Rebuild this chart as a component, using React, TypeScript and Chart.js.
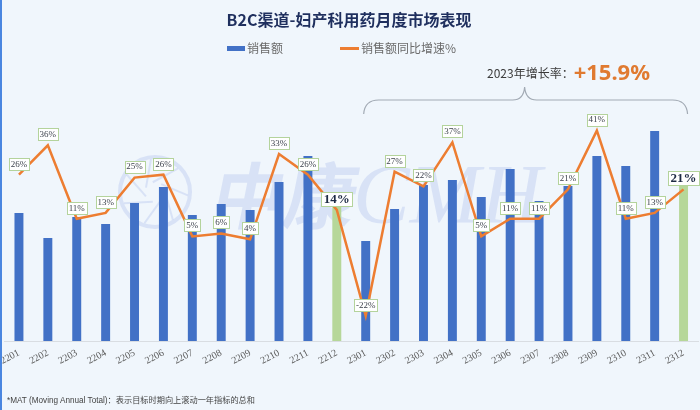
import React, { useEffect, useRef } from 'react';
import { Chart, registerables } from 'chart.js';

Chart.register(...registerables);

// ---------- data ----------
const categories = [
  '2201', '2202', '2203', '2204', '2205', '2206', '2207', '2208', '2209', '2210', '2211', '2212',
  '2301', '2302', '2303', '2304', '2305', '2306', '2307', '2308', '2309', '2310', '2311', '2312',
];
// 销售额 (relative units)
const salesValues = [
  12.8, 10.3, 12.4, 11.7, 13.8, 15.4, 12.6, 13.7, 13.1, 15.9, 18.5, 13.4,
  10.0, 13.2, 15.6, 16.1, 14.4, 17.2, 14.0, 15.5, 18.5, 17.5, 21.0, 15.5,
];
// 销售额同比增速 %
const growthValues = [
  26, 36, 11, 13, 25, 26, 5, 6, 4, 33, 26, 14,
  -22, 27, 22, 37, 5, 11, 11, 21, 41, 11, 13, 21,
];
const highlightCategories = ['2212', '2312'];

const titleText = 'B2C渠道-妇产科用药月度市场表现';
const legendSales = '销售额';
const legendGrowth = '销售额同比增速%';
const annotationLabel = '2023年增长率：';
const annotationValue = '+15.9%';
const braceFrom = '2301';
const braceTo = '2312';
const footnoteText = '*MAT (Moving Annual Total)：表示目标时期向上滚动一年指标的总和';
const watermarkCN = '中康';
const watermarkEN = 'CMH';

// ---------- styles ----------
const BLUE = '#4271c6';
const GREEN = '#b6d799';
const ORANGE = '#ed7d31';
const CJK = '"Noto Sans CJK SC", "Noto Sans", sans-serif';
const SERIF = '"Liberation Serif", "DejaVu Serif", serif';

const isHighlight = (i: number) => highlightCategories.includes(categories[i]);

const watermarkPlugin = {
  id: 'watermark',
  beforeDatasetsDraw(chart: any) {
    const ctx = chart.ctx as CanvasRenderingContext2D;
    ctx.save();
    // logo ring
    const cx = 155, cy = 192, r = 35;
    ctx.strokeStyle = 'rgba(110,140,220,0.18)';
    ctx.lineWidth = 4;
    ctx.beginPath();
    ctx.arc(cx, cy, r, 0, Math.PI * 2);
    ctx.stroke();
    ctx.lineWidth = 2;
    for (let k = 0; k < 7; k++) {
      const a = (k * Math.PI * 2) / 7;
      ctx.beginPath();
      ctx.moveTo(cx + Math.cos(a) * 10, cy + Math.sin(a) * 10);
      ctx.lineTo(cx + Math.cos(a + 1.0) * (r - 2), cy + Math.sin(a + 1.0) * (r - 2));
      ctx.stroke();
    }
    // text
    ctx.fillStyle = 'rgba(110,140,220,0.18)';
    ctx.textBaseline = 'alphabetic';
    ctx.textAlign = 'left';
    const base = 223;
    ctx.save();
    ctx.transform(1, 0, -0.2, 1, 0.2 * base, 0);
    ctx.font = `bold 72px ${CJK}`;
    ctx.fillText(watermarkCN, 208, base);
    ctx.restore();
    ctx.font = `italic 85px ${SERIF}`;
    ctx.fillText(watermarkEN, 353, base);
    ctx.restore();
  },
};

const labelsPlugin = {
  id: 'pointLabels',
  afterDatasetsDraw(chart: any) {
    const ctx = chart.ctx as CanvasRenderingContext2D;
    const meta = chart.getDatasetMeta(1);
    ctx.save();
    meta.data.forEach((pt: any, i: number) => {
      const bold = isHighlight(i);
      const text = `${growthValues[i]}%`;
      ctx.font = bold ? `bold 13px ${SERIF}` : `9px ${SERIF}`;
      const tw = ctx.measureText(text).width;
      const w = Math.round(tw + (bold ? 5 : 4));
      const h = bold ? 14 : 12;
      const cx = pt.x;
      const cy = pt.y - 11;
      const x0 = Math.round(cx - w / 2) + 0.5;
      const y0 = Math.round(cy - h / 2) + 0.5;
      ctx.fillStyle = '#ffffff';
      ctx.fillRect(x0, y0, w, h);
      ctx.strokeStyle = '#b4d39c';
      ctx.lineWidth = 1;
      ctx.strokeRect(x0, y0, w, h);
      ctx.fillStyle = bold ? '#1d2a44' : '#3a3f4a';
      ctx.textAlign = 'center';
      ctx.textBaseline = 'middle';
      ctx.fillText(text, cx, cy + 0.5);
    });
    ctx.restore();
  },
};

const bracePlugin = {
  id: 'brace',
  afterDraw(chart: any) {
    const ctx = chart.ctx as CanvasRenderingContext2D;
    const xs = chart.scales.x;
    const left = xs.getPixelForValue(categories.indexOf(braceFrom)) - 2;
    const right = xs.getPixelForValue(categories.indexOf(braceTo)) + 4;
    const mid = (left + right) / 2 - 1;
    const yArm = 100, yTip = 87, yEnd = 114;
    ctx.save();
    ctx.strokeStyle = '#a2aab4';
    ctx.lineWidth = 1.2;
    ctx.beginPath();
    ctx.moveTo(left, yEnd);
    ctx.quadraticCurveTo(left + 1, yArm, left + 15, yArm);
    ctx.lineTo(mid - 12, yArm);
    ctx.quadraticCurveTo(mid - 1, yArm, mid, yTip);
    ctx.quadraticCurveTo(mid + 1, yArm, mid + 12, yArm);
    ctx.lineTo(right - 15, yArm);
    ctx.quadraticCurveTo(right - 1, yArm, right, yEnd);
    ctx.stroke();
    ctx.restore();
  },
};

export default function App() {
  const ref = useRef<HTMLCanvasElement | null>(null);

  useEffect(() => {
    if (!ref.current) return;
    const chart = new Chart(ref.current, {
      type: 'bar',
      data: {
        labels: categories,
        datasets: [
          {
            type: 'bar',
            label: legendSales,
            data: salesValues,
            backgroundColor: categories.map((_, i) => (isHighlight(i) ? GREEN : BLUE)),
            barPercentage: 0.31,
            categoryPercentage: 1.0,
            yAxisID: 'y',
            order: 2,
          },
          {
            type: 'line',
            label: legendGrowth,
            data: growthValues,
            borderColor: ORANGE,
            backgroundColor: ORANGE,
            borderWidth: 2.5,
            pointRadius: 0,
            tension: 0,
            yAxisID: 'y2',
            order: 1,
          },
        ] as any,
      },
      options: {
        responsive: false,
        animation: false,
        devicePixelRatio: 1,
        events: [],
        layout: { padding: { top: 0, left: 0, right: 2, bottom: 37 } },
        plugins: {
          legend: { display: false },
          tooltip: { enabled: false },
          title: {
            display: true,
            text: titleText,
            color: '#1f2f5e',
            font: { family: CJK, size: 16, weight: 'bold' },
            padding: { top: 10, bottom: 80.8 },
          },
        },
        scales: {
          x: {
            grid: { display: false, drawTicks: false },
            border: { display: true, color: '#d9dde2', width: 1 },
            ticks: {
              color: '#5a5a5a',
              font: { family: SERIF, size: 10 },
              minRotation: 28,
              maxRotation: 28,
              autoSkip: false,
              padding: 6,
            },
            afterFit: (scale: any) => {
              scale.paddingLeft = 4.5;
            },
          },
          y: { display: false, min: 0, max: 23.1 },
          y2: { display: false, position: 'right', min: -30.6, max: 48.0 },
        },
      } as any,
      plugins: [watermarkPlugin, labelsPlugin, bracePlugin],
    });
    return () => chart.destroy();
  }, []);

  return (
    <div
      style={{
        position: 'fixed',
        left: 0,
        top: 0,
        width: 700,
        height: 410,
        background: '#f0f6fc',
        overflow: 'hidden',
        fontFamily: CJK,
      }}
    >
      <canvas ref={ref} width={700} height={410} style={{ position: 'absolute', left: 0, top: 0 }} />
      <div style={{ position: 'absolute', left: 0, top: 0, width: 2, height: 410, background: '#4a86e0' }} />
      {/* legend */}
      <div style={{ position: 'absolute', left: 227, top: 46, width: 18, height: 5, background: BLUE }} />
      <div style={{ position: 'absolute', left: 247, top: 40, fontSize: 12, lineHeight: '16px', color: '#6b6b6b', whiteSpace: 'nowrap' }}>
        {legendSales}
      </div>
      <div style={{ position: 'absolute', left: 340, top: 47, width: 19, height: 2.5, background: ORANGE }} />
      <div style={{ position: 'absolute', left: 361, top: 40, fontSize: 12, lineHeight: '16px', color: '#6b6b6b', whiteSpace: 'nowrap' }}>
        {legendGrowth}
      </div>
      {/* annotation */}
      <div
        style={{
          position: 'absolute',
          left: 487,
          top: 56,
          height: 30,
          display: 'flex',
          alignItems: 'center',
          whiteSpace: 'nowrap',
        }}
      >
        <span style={{ fontSize: 12, color: '#3a3a3a', marginTop: 3 }}>{annotationLabel}</span>
        <span style={{ fontSize: 22, fontWeight: 'bold', color: '#e07a30', fontFamily: '"Noto Sans", sans-serif' }}>
          {annotationValue}
        </span>
      </div>
      {/* footnote */}
      <div
        style={{
          position: 'absolute',
          left: 7,
          top: 395,
          fontSize: 8.2,
          lineHeight: '12px',
          color: '#444',
          whiteSpace: 'nowrap',
          fontFamily: '"Liberation Sans", "Noto Sans CJK SC", sans-serif',
        }}
      >
        {footnoteText}
      </div>
    </div>
  );
}
